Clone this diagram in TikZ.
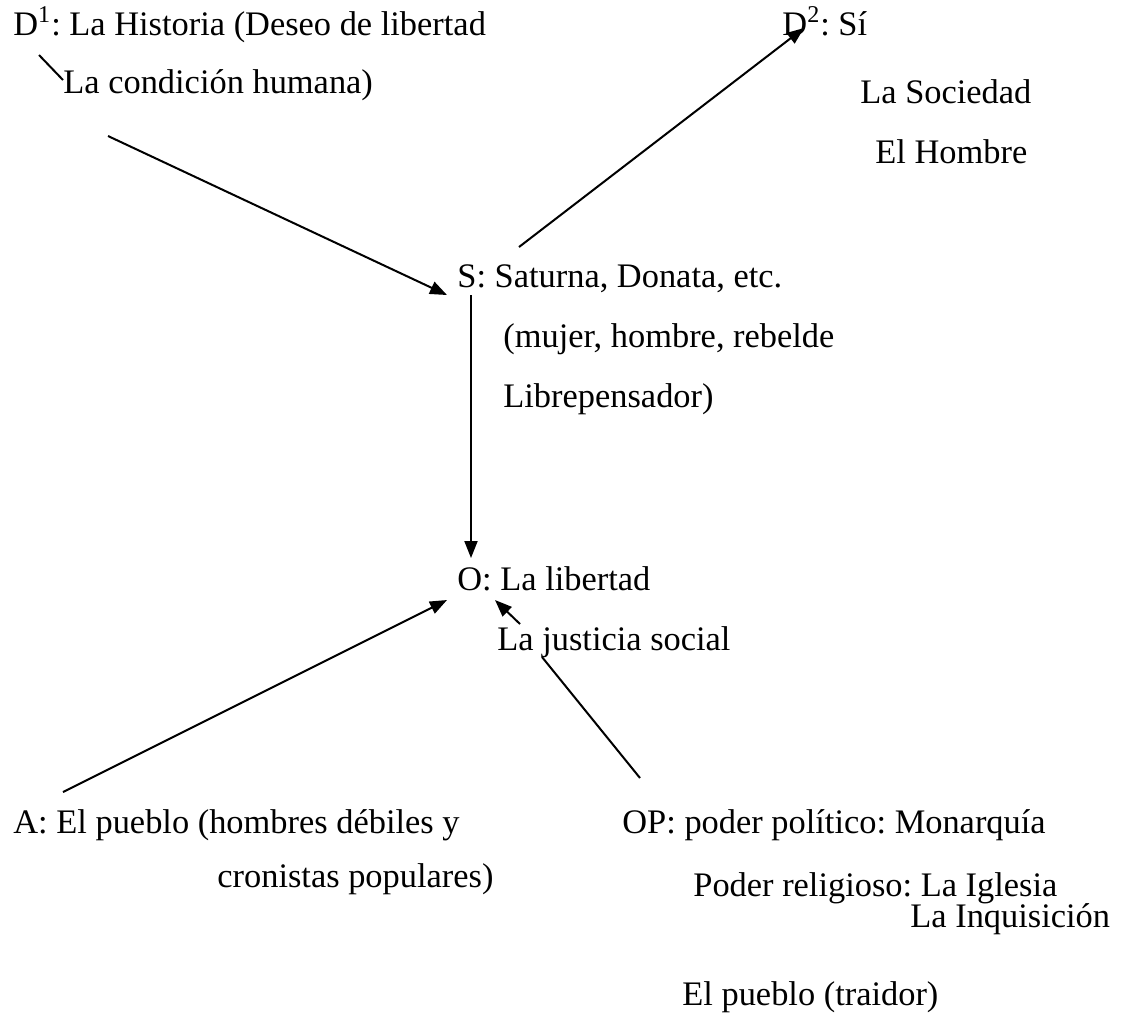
\documentclass[tikz,border=0pt]{standalone}
\usepackage{fontspec}
\setmainfont{Liberation Serif}
\usetikzlibrary{arrows.meta}
\frenchspacing

\begin{document}
\begin{tikzpicture}[x=0.5pt, y=-0.5pt,
  font=\fontsize{17.2}{20}\selectfont,
  txt/.style={anchor=base west, inner sep=0pt},
  link/.style={line width=1pt},
  arr/.style={line width=1pt, -{Triangle[length=8.5pt, width=6.5pt]}}]

\useasboundingbox (0,0) rectangle (1122,1025);

\node[txt] (d1) at (13,35) {D\textsuperscript{1}: La Historia (Deseo de libertad};
\node[txt] (d1b) at (63,93) {La condición humana)};

\node[txt] (d2) at (782,35) {D\textsuperscript{2}: Sí};
\node[txt] (d2b) at (860,103) {La Sociedad};
\node[txt] (d2c) at (875,163) {El Hombre};

\node[txt] (s) at (457,287) {S: Saturna, Donata, etc.};
\node[txt] (s2) at (503,347) {(mujer, hombre, rebelde};
\node[txt] (s3) at (503,407) {Librepensador)};

\node[txt] (o) at (457,590) {O: La libertad};
\node[txt] (o2) at (497,650) {La justicia social};

\node[txt] (a) at (13,833) {A: El pueblo (hombres débiles y};
\node[txt] (a2) at (217,887) {cronistas populares)};

\node[txt] (op) at (622,833) {OP: poder político: Monarquía};
\node[txt] (op2) at (693,896) {Poder religioso: La Iglesia};
\node[txt] (op3) at (910,927) {La Inquisición};
\node[txt] (op4) at (682,1005) {El pueblo (traidor)};

% ends of the connectors
\coordinate (d1-out) at (39,55);
\coordinate (d1b-in) at (63,80);
\coordinate (d1b-out) at (108,136);
\coordinate (s-in) at (447,295);
\coordinate (s-out) at (519,247);
\coordinate (d2-in) at (804,28);
\coordinate (s-down) at (471,295);
\coordinate (o-top) at (471,558);
\coordinate (a-out) at (63,792);
\coordinate (o-left) at (447,600);
\coordinate (o2-out) at (520,624);
\coordinate (o-right) at (495,600);
\coordinate (op-out) at (640,778);
\coordinate (o2-in) at (542,657);

\draw[link] (d1-out) -- (d1b-in);
\draw[arr] (d1b-out) -- (s-in);
\draw[arr] (s-out) -- (d2-in);
\draw[arr] (s-down) -- (o-top);
\draw[arr] (a-out) -- (o-left);
\draw[arr] (o2-out) -- (o-right);
\draw[link] (op-out) -- (o2-in);
\end{tikzpicture}
\end{document}
